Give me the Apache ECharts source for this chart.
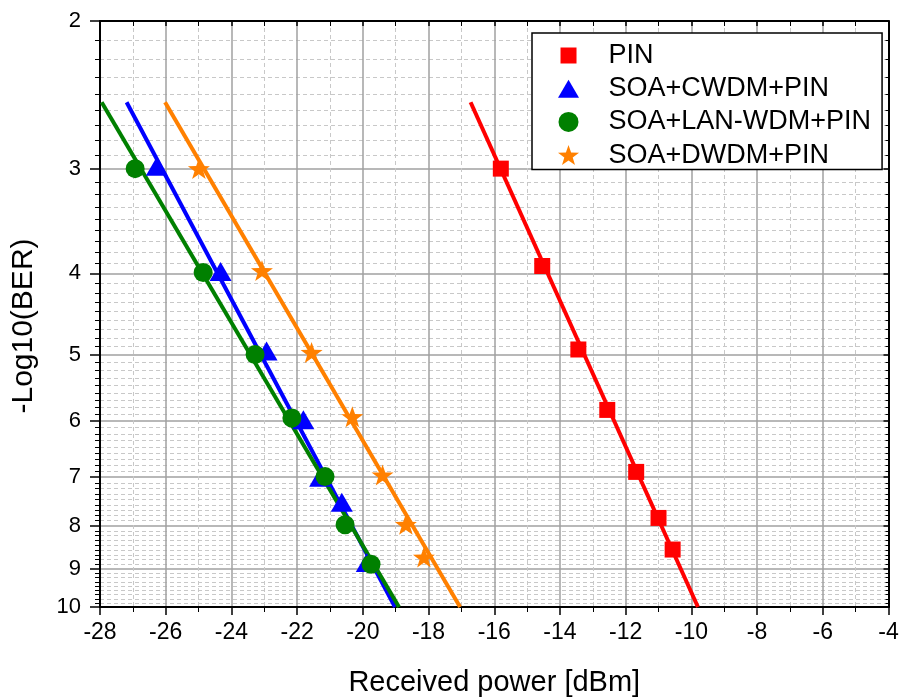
<!DOCTYPE html>
<html>
<head>
<meta charset="utf-8">
<title>BER vs received power</title>
<script src="https://cdn.jsdelivr.net/npm/echarts@6/dist/echarts.min.js"></script>
<style>
  html, body { margin: 0; padding: 0; background: #fff; }
  #chart { width: 900px; height: 697px; }
</style>
</head>
<body>
<div id="chart"></div>
<script>
"use strict";
// measured points: x = received power [dBm], y = -log10(BER)
var pinX = [-15.8, -14.54, -13.44, -12.56, -11.68, -11.0, -10.57];
var pinY = [3.0, 3.92, 4.93, 5.82, 6.9, 7.83, 8.54];
var cwdmX = [-26.27, -24.33, -22.93, -21.81, -21.3, -20.64, -19.88];
var cwdmY = [2.98, 3.98, 4.95, 5.98, 7.0, 7.5, 8.85];
var lanX = [-26.93, -24.86, -23.28, -22.16, -21.15, -20.54, -19.75];
var lanY = [3.0, 3.99, 5.0, 5.95, 6.99, 7.98, 8.89];
var dwdmX = [-24.99, -23.07, -21.56, -20.32, -19.4, -18.69, -18.14];
var dwdmY = [3.0, 3.97, 4.97, 5.93, 6.96, 7.97, 8.72];

// linear fits, start and end of each line
var fitY = [2.5, 10];
var pinFitX = [-16.72, -9.8];
var cwdmFitX = [-27.19, -19.02];
var lanFitX = [-27.95, -18.9];
var dwdmFitX = [-26.02, -17.04];

var names = ["PIN", "SOA+CWDM+PIN", "SOA+LAN-WDM+PIN", "SOA+DWDM+PIN"];
var yMajorTicks = [2, 3, 4, 5, 6, 7, 8, 9, 10];

var FONT = "'Liberation Sans', Arial, Helvetica, sans-serif";
var STAR = "path://M50 0 L61.76 33.82 L97.55 34.55 L69.02 56.18 L79.39 90.45 L50 70 L20.61 90.45 L30.98 56.18 L2.45 34.55 L38.24 33.82 Z";
// legend icons as paths so they keep their aspect (the extra moves pad the box)
var LEG_RECT = "path://M0 0 M2 2 L18 2 L18 18 L2 18 Z M20 20";
var LEG_TRI = "path://M0 0 M10.5 1 L21 19 L0 19 Z M21 20";

// the y scale is log of -log10(BER), so plot log10 of the values
function toAxis(v) {
    return Math.log10(v);
}
function pairs(xs, ys) {
    return xs.map(function (x, i) { return [x, toAxis(ys[i])]; });
}

// origin style minor ticks: 8 between every two labels
var yMinorTicks = [];
for (var k = 2; k < 10; k++) {
    for (var j = 1; j < 9; j++) {
        yMinorTicks.push(toAxis(k + j / 9));
    }
}

function markerSeries(name, xs, ys, symbol, size, color) {
    return {
        name: name, type: "scatter", yAxisIndex: 1,
        data: pairs(xs, ys),
        symbol: symbol, symbolSize: size, symbolKeepAspect: true,
        itemStyle: { color: color, opacity: 1 },
        emphasis: { disabled: true },
        z: 4
    };
}
function fitSeries(name, xs, color) {
    return {
        name: name + " fit", type: "line", yAxisIndex: 1,
        data: pairs(xs, fitY),
        symbol: "none", showSymbol: false,
        lineStyle: { color: color, width: 4 },
        silent: true,
        z: 3
    };
}

var yMin = toAxis(2), yMax = toAxis(10);
function yAxisOf(position, major) {
    var left = position === "left";
    var ax = {
        type: "value", position: position, min: yMin, max: yMax, inverse: true,
        axisLine: { show: major, onZero: false, lineStyle: { color: "#000", width: 2 } },
        axisTick: {
            show: true, inside: !left,
            customValues: major ? yMajorTicks.map(toAxis) : yMinorTicks,
            length: left ? (major ? 10 : 5) : (major ? 5 : 3),
            lineStyle: { color: "#000", width: major ? 1.5 : 1 }
        },
        axisLabel: { show: false },
        splitLine: { show: false }
    };
    if (left) {
        ax.splitLine = major
            ? { show: true, lineStyle: { color: "#a0a0a0", width: 1.5 } }
            : { show: true, lineStyle: { color: "#c8c8c8", width: 1, type: [4, 3] } };
    }
    if (left && major) {
        ax.axisLabel = {
            show: true, customValues: yMajorTicks.map(toAxis),
            formatter: function (v) { return String(Math.round(Math.pow(10, v))); },
            margin: 19, fontSize: 22, color: "#000", fontFamily: FONT
        };
        ax.name = "-Log10(BER)";
        ax.nameLocation = "middle";
        ax.nameGap = 61;
        ax.nameMoveOverlap = false;
        ax.nameTextStyle = { fontSize: 30, color: "#000", fontFamily: FONT, padding: [0, 24, 0, 0] };
    }
    return ax;
}

function xAxisOf(position) {
    var bottom = position === "bottom";
    return {
        type: "value", position: position, min: -28, max: -4, interval: 2,
        axisLine: { show: true, onZero: false, lineStyle: { color: "#000", width: 2 } },
        axisTick: { show: true, inside: !bottom, length: bottom ? 8 : 5, lineStyle: { color: "#000", width: 1.5 } },
        minorTick: { show: true, splitNumber: 2, length: 5, lineStyle: { color: "#000", width: 1 } },
        axisLabel: bottom
            ? { show: true, margin: 14, fontSize: 23, color: "#000", fontFamily: FONT }
            : { show: false },
        splitLine: bottom
            ? { show: true, lineStyle: { color: "#a0a0a0", width: 1.5 } }
            : { show: false },
        minorSplitLine: bottom
            ? { show: true, lineStyle: { color: "#c8c8c8", width: 1, type: [4, 3] } }
            : { show: false },
        name: bottom ? "Received power [dBm]" : "",
        nameLocation: "middle",
        nameGap: 61,
        nameMoveOverlap: false,
        nameTextStyle: { fontSize: 29, color: "#000", fontFamily: FONT }
    };
}

var chart = echarts.init(document.getElementById("chart"), null, { renderer: "canvas" });
chart.setOption({
    animation: false,
    backgroundColor: "#fff",
    textStyle: { fontFamily: FONT },
    grid: { left: 100, right: 11.5, top: 21, bottom: 90, containLabel: false, outerBoundsMode: "none" },
    legend: {
        data: [
            { name: names[0], icon: LEG_RECT },
            { name: names[1], icon: LEG_TRI },
            { name: names[2] },
            { name: names[3] }
        ],
        orient: "vertical", left: 532, top: 33,
        // icon centred near x=569, text pushed out to x=609
        padding: [9, 11, 1, 26], itemGap: 6.2,
        itemWidth: 22, itemHeight: 20, symbolKeepAspect: true,
        backgroundColor: "#fff", borderColor: "#000", borderWidth: 1.5, borderRadius: 0,
        selectedMode: false,
        textStyle: { fontSize: 27, lineHeight: 27, color: "#000", fontFamily: FONT, padding: [0, 0, 0, 24] }
    },
    xAxis: [xAxisOf("bottom"), xAxisOf("top")],
    // minor axes come first so the solid grid sits over the dashed one
    yAxis: [yAxisOf("left", false), yAxisOf("left", true), yAxisOf("right", false), yAxisOf("right", true)],
    series: [
        fitSeries(names[0], pinFitX, "#ff0000"),
        fitSeries(names[1], cwdmFitX, "#0000ff"),
        fitSeries(names[3], dwdmFitX, "#ff8000"),
        fitSeries(names[2], lanFitX, "#008000"),
        markerSeries(names[0], pinX, pinY, "rect", 16, "#ff0000"),
        markerSeries(names[1], cwdmX, cwdmY, "triangle", [22, 19], "#0000ff"),
        markerSeries(names[2], lanX, lanY, "circle", 19, "#008000"),
        markerSeries(names[3], dwdmX, dwdmY, STAR, 22, "#ff8000")
    ]
});
</script>
</body>
</html>
